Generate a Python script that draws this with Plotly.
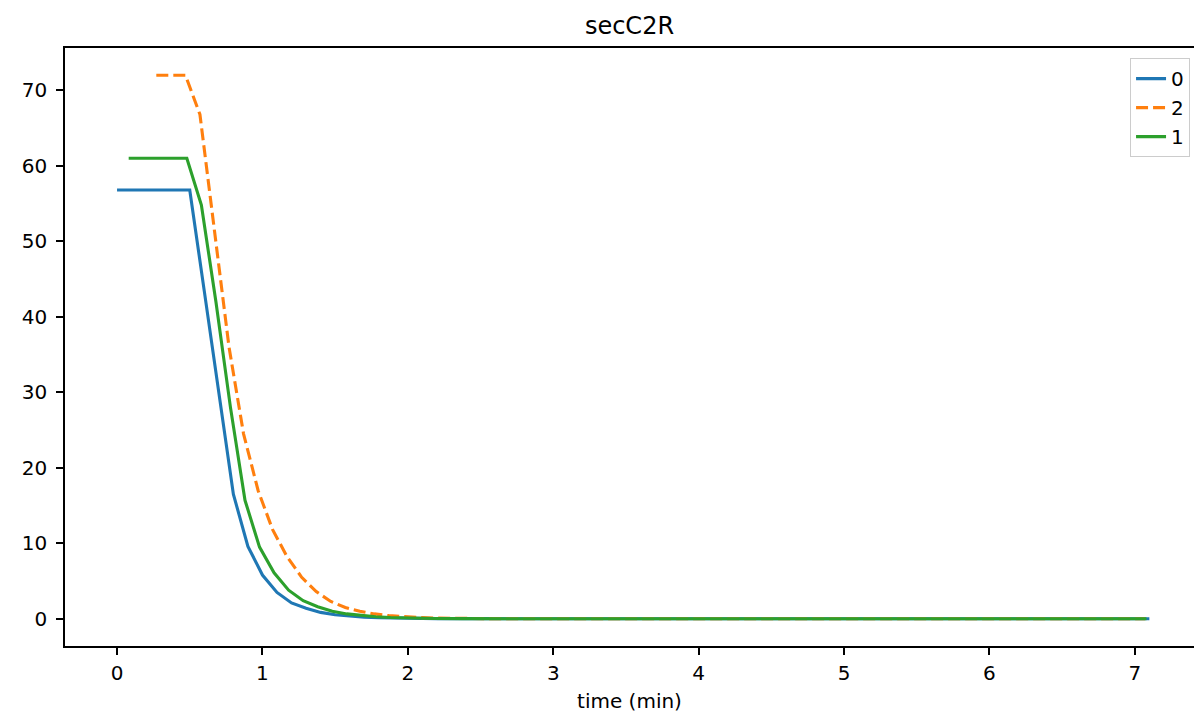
import plotly.graph_objects as go

title_text = "secC2R"
x_label = "time (min)"

series_names = ["0", "2", "1"]

time_0 = [0.0, 0.1, 0.2, 0.3, 0.4, 0.5, 0.6, 0.7, 0.8, 0.9, 1.0, 1.1, 1.2, 1.3, 1.4,
          1.5, 1.6, 1.7, 1.8, 1.9, 2.0, 2.2, 2.4, 2.6, 3.0, 7.1]
vals_0 = [56.8, 56.8, 56.8, 56.8, 56.8, 56.8, 43.4, 30.0, 16.5, 9.6, 5.8, 3.5, 2.1, 1.4, 0.85,
          0.55, 0.36, 0.23, 0.15, 0.1, 0.06, 0.03, 0.02, 0.01, 0.0, 0.0]

time_2 = [0.27, 0.37, 0.47, 0.57, 0.67, 0.77, 0.87, 0.97, 1.07, 1.17, 1.27, 1.37, 1.47,
          1.57, 1.67, 1.77, 1.87, 1.97, 2.07, 2.17, 2.37, 2.57, 2.97, 7.07]
vals_2 = [72.0, 72.0, 72.0, 66.8, 51.0, 36.0, 24.5, 17.0, 11.8, 8.2, 5.5, 3.6, 2.3,
          1.5, 1.0, 0.65, 0.42, 0.27, 0.17, 0.11, 0.05, 0.02, 0.0, 0.0]

time_1 = [0.08, 0.18, 0.28, 0.38, 0.48, 0.58, 0.68, 0.78, 0.88, 0.98, 1.08, 1.18, 1.28,
          1.38, 1.48, 1.58, 1.68, 1.78, 1.88, 1.98, 2.18, 2.38, 2.68, 3.08, 7.08]
vals_1 = [61.0, 61.0, 61.0, 61.0, 61.0, 54.8, 42.0, 28.0, 15.7, 9.5, 6.1, 3.8, 2.4,
          1.6, 1.0, 0.65, 0.42, 0.27, 0.17, 0.11, 0.05, 0.02, 0.01, 0.0, 0.0]

x_ticks = [0, 1, 2, 3, 4, 5, 6, 7]
y_ticks = [0, 10, 20, 30, 40, 50, 60, 70]

FONT = "DejaVu Sans"

fig = go.Figure()
fig.add_trace(go.Scatter(x=time_0, y=vals_0, mode="lines", name=series_names[0],
                         line=dict(color="#1f77b4", width=3.1)))
fig.add_trace(go.Scatter(x=time_2, y=vals_2, mode="lines", name=series_names[1],
                         line=dict(color="#ff7f0e", width=3.1, dash="12px,5px")))
fig.add_trace(go.Scatter(x=time_1, y=vals_1, mode="lines", name=series_names[2],
                         line=dict(color="#2ca02c", width=3.1)))

axis_common = dict(
    showgrid=False, zeroline=False, showline=True, linecolor="black", linewidth=1.7,
    ticks="outside", ticklen=7, tickwidth=1.7, tickcolor="black",
    tickfont=dict(family=FONT, size=20, color="black"),
)

fig.update_layout(
    width=1194, height=716,
    paper_bgcolor="white", plot_bgcolor="white",
    margin=dict(l=65, r=0, t=48, b=70),
    font=dict(family=FONT, size=20, color="black"),
    title=dict(text=title_text, x=0.5, xref="paper", xanchor="center",
               y=1, yref="paper", yanchor="bottom", pad=dict(b=14),
               font=dict(family=FONT, size=24, color="black")),
    xaxis=dict(range=[-0.358, 7.407], tickvals=x_ticks, mirror=True,
               title=dict(text=x_label, font=dict(family=FONT, size=20), standoff=10),
               ticklabelstandoff=1, **axis_common),
    yaxis=dict(range=[-3.6, 75.6], tickvals=y_ticks, mirror=False,
               ticklabelstandoff=5, **axis_common),
    legend=dict(x=0.9965, xanchor="right", y=0.983, yanchor="top",
                bgcolor="rgba(255,255,255,0.8)", bordercolor="#cccccc", borderwidth=1,
                font=dict(family=FONT, size=20), tracegroupgap=0, itemwidth=30),
    showlegend=True,
)

fig.write_html("out.html", config={"displayModeBar": False},
               post_script="document.body.style.margin='0';document.body.style.overflow='hidden';")
